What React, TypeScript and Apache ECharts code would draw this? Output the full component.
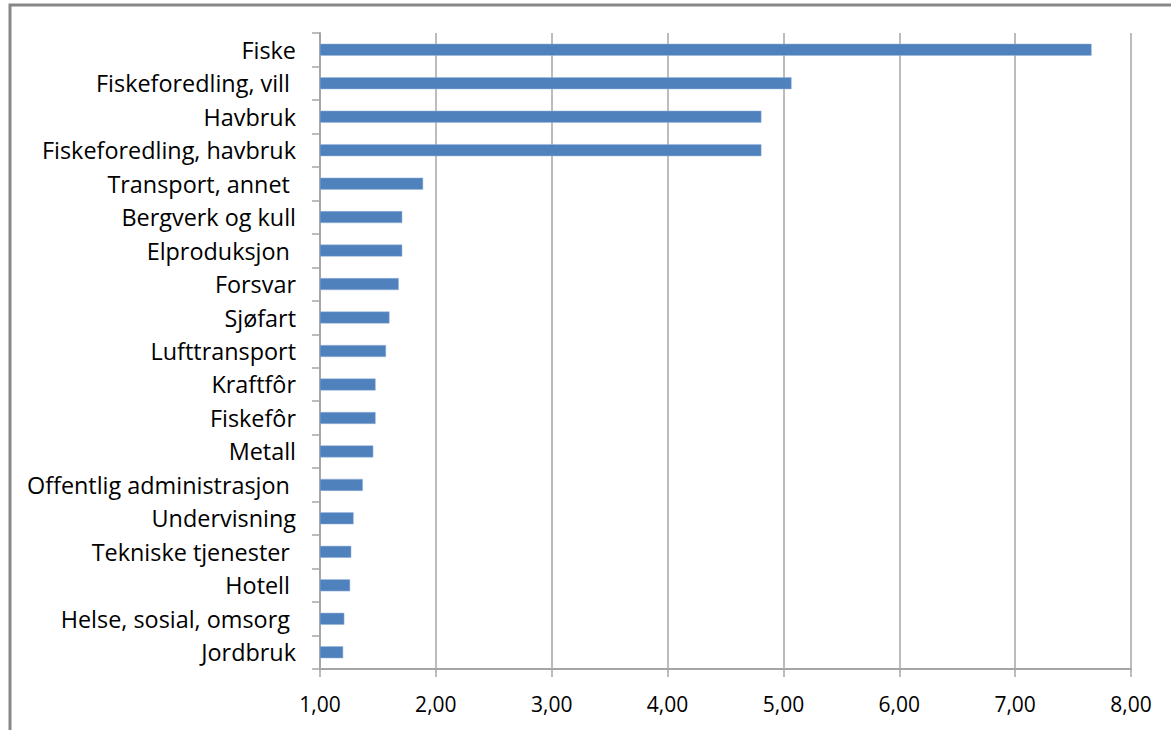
import React, { useEffect, useRef } from "react";
import * as echarts from "echarts";

const categories = [
  "Fiske",
  "Fiskeforedling, vill ",
  "Havbruk",
  "Fiskeforedling, havbruk",
  "Transport, annet ",
  "Bergverk og kull",
  "Elproduksjon ",
  "Forsvar",
  "Sjøfart",
  "Lufttransport",
  "Kraftfôr",
  "Fiskefôr",
  "Metall",
  "Offentlig administrasjon ",
  "Undervisning",
  "Tekniske tjenester ",
  "Hotell ",
  "Helse, sosial, omsorg ",
  "Jordbruk",
];

const values = [
  7.66, 5.07, 4.81, 4.81, 1.89, 1.71, 1.71, 1.68, 1.6, 1.57, 1.48, 1.48, 1.46,
  1.37, 1.29, 1.27, 1.26, 1.21, 1.2,
];

const xMin = 1;
const xMax = 8;
const xInterval = 1;

export default function App() {
  const ref = useRef<HTMLDivElement>(null);

  useEffect(() => {
    if (!ref.current) return;
    const chart = echarts.init(ref.current, null, { renderer: "svg" });
    const font = "'Open Sans', Lato, sans-serif";
    chart.setOption({
      animation: false,
      backgroundColor: "#ffffff",
      graphic: [
        {
          type: "rect",
          shape: { x: 10, y: 5, width: 1200, height: 800 },
          style: { fill: "none", stroke: "#878787", lineWidth: 3 },
          silent: true,
        },
      ],
      grid: { left: 320, top: 33, right: 40, bottom: 61 },
      xAxis: {
        type: "value",
        min: xMin,
        max: xMax,
        interval: xInterval,
        axisLine: { show: true, lineStyle: { color: "#a6a6a6", width: 2 } },
        axisTick: { show: true, length: 8, lineStyle: { color: "#a6a6a6", width: 1.5 } },
        axisLabel: {
          formatter: (v: number) => v.toFixed(2).replace(".", ","),
          color: "#000000",
          fontFamily: font,
          fontSize: 21,
          margin: 24,
        },
        splitLine: { show: true, lineStyle: { color: "#a6a6a6", width: 1.5 } },
      },
      yAxis: {
        type: "category",
        data: categories,
        inverse: true,
        axisLine: { show: true, lineStyle: { color: "#a6a6a6", width: 2 } },
        axisTick: { show: true, length: 8, lineStyle: { color: "#a6a6a6", width: 1.5 } },
        axisLabel: {
          color: "#000000",
          fontFamily: font,
          fontSize: 23.4,
          margin: 24,
        },
      },
      series: [
        {
          type: "bar",
          data: values,
          barWidth: 12,
          itemStyle: { color: "#4f81bd", borderColor: "#9ab4da", borderWidth: 0.5 },
        },
      ],
    });
    return () => chart.dispose();
  }, []);

  return (
    <div
      ref={ref}
      style={{ position: "fixed", left: 0, top: 0, width: 1171, height: 730 }}
    />
  );
}
